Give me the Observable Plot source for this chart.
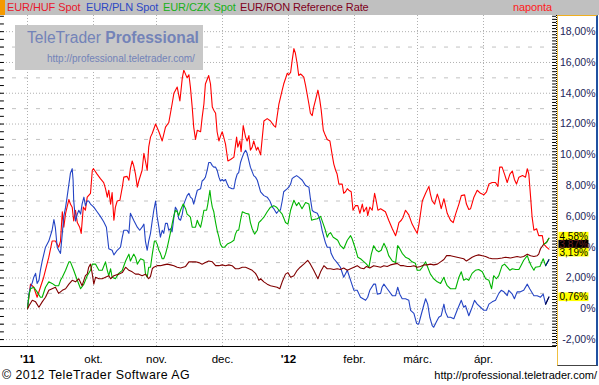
<!DOCTYPE html>
<html><head><meta charset="utf-8">
<script src="https://cdn.jsdelivr.net/npm/d3@7"></script>
<script src="https://cdn.jsdelivr.net/npm/@observablehq/plot@0.6"></script>
<style>
body{margin:0;background:#fff;}
#wrap{position:relative;width:599px;height:385px;overflow:hidden;font-family:"Liberation Sans",Arial,sans-serif;background:#fff;}
#hdr{position:absolute;left:0;top:0;width:599px;height:15px;background:#c0c0c0;}
#hdr span{position:absolute;top:0;font-size:11px;letter-spacing:-0.1px;line-height:15px;white-space:nowrap;}
#orange{position:absolute;left:0;top:0;width:5px;height:15px;background:#f59a00;}
#chart{position:absolute;left:0;top:15px;}
#panel{position:absolute;left:557px;top:15px;width:41px;height:351px;box-sizing:border-box;border-top:1px solid #f0b020;border-left:1px solid #f0c040;border-right:2px solid #2050a0;border-bottom:1px solid #444;pointer-events:none;}
#logo{position:absolute;left:15px;top:25px;width:188px;height:45px;background:#c8c8c8;color:#7383b8;}
#logo .t{position:absolute;left:12px;top:4px;font-size:15.6px;white-space:nowrap;}
#logo .u{position:absolute;left:32px;top:28px;font-size:10px;white-space:nowrap;}
#ftr{position:absolute;left:0;top:366px;width:599px;height:19px;background:#fff;}
#ftr .l{position:absolute;left:2px;top:2px;font-size:12.4px;letter-spacing:0.45px;}
#ftr .r{position:absolute;right:2px;top:3px;font-size:11px;}
</style></head>
<body>
<div id="wrap">
  <div id="hdr">
    <div id="orange"></div>
    <span style="left:7px;color:#e8182c">EUR/HUF Spot</span>
    <span style="left:86px;color:#2c48c4">EUR/PLN Spot</span>
    <span style="left:163px;color:#18b018">EUR/CZK Spot</span>
    <span style="left:240px;color:#80001c">EUR/RON Reference Rate</span>
    <span style="left:513px;color:#ff1a1a">naponta</span>
  </div>
  <div id="chart"></div>
  <div id="panel"></div>
  <div id="logo"><div class="t">TeleTrader <b>Professional</b></div><div class="u">http://professional.teletrader.com/</div></div>
  <div id="ftr"><span class="l">© 2012 TeleTrader Software AG</span><span class="r">http://professional.teletrader.com/</span></div>
</div>
<script>
// Trading-day index (0 = first trading day of Sept 2011), change in %
const hufPct = [[0,0],[1,1.6],[2.1,1.4],[3.2,0.75],[4.3,1.4],[5.4,2.05],[7.1,3.35],[8.2,4.4],[9.3,4.4],[10.4,4.0],[11,4.4],[11.6,6.3],[12.1,5.3],[12.7,6.2],[13.8,7.1],[14.3,6.8],[14.9,6.6],[15.4,5.7],[16,6.4],[16.6,5.6],[17.4,5.3],[17.9,4.9],[18.6,6.6],[19.3,6.4],[19.9,7.25],[21,7.5],[21.6,9.0],[22,9.1],[23.2,8.75],[24.3,8.45],[25.4,8.2],[26,7.8],[26.6,7.25],[27.1,7.7],[27.7,6.8],[28.2,7.55],[28.8,5.75],[29.3,6.6],[29.9,7.0],[30.8,7.05],[31.6,7.9],[32.1,8.55],[33.2,8.6],[33.8,8.35],[34.3,9.1],[34.9,9.6],[35.4,9.3],[36,8.75],[36.6,7.9],[37.1,8.3],[38.2,9.0],[38.8,10.1],[39.3,9.6],[39.9,9.0],[40.4,10.5],[41,11.15],[41.6,11.4],[42.7,12.0],[43.8,11.5],[44.9,10.9],[46,11.8],[47.1,12.1],[48.2,13.3],[48.8,14.0],[49.9,14.4],[50.8,13.5],[51.6,15.0],[52.1,15.5],[53.2,15.0],[53.8,15.2],[54.3,14.4],[54.9,13.1],[55.4,11.8],[56,11.0],[56.6,11.6],[57.7,11.5],[58.2,12.4],[58.8,13.3],[59.3,14.6],[60.4,15.15],[61,14.6],[61.6,13.1],[62.1,12.9],[62.7,12.7],[63.2,11.5],[63.8,10.9],[64.3,11.2],[64.9,11.5],[65.4,11.15],[66,10.7],[66.8,9.6],[67.7,9.7],[68.8,9.85],[69.7,11.15],[70.1,10.5],[70.8,10.9],[71.2,10.2],[71.9,11.9],[72.7,11.15],[73.2,10.9],[73.8,11.25],[74.3,10.3],[74.9,10.5],[75.4,10.9],[76.3,10.3],[76.8,10.5],[77.7,10.0],[78.8,12.2],[79.9,12.35],[81,12.2],[82.1,11.9],[82.7,11.8],[83.8,13.3],[84.9,14.2],[85.4,14.6],[86.6,15.3],[87.1,15.2],[87.7,15.35],[88.2,16.1],[88.8,16.9],[89.3,16.6],[89.9,15.9],[90.4,15.15],[91,15.25],[91.6,15.15],[92.1,15.05],[92.7,14.5],[93.2,13.95],[93.8,13.3],[94.3,12.7],[94.9,12.55],[95.4,13.1],[96,13.55],[96.8,14.2],[97.4,13.6],[97.9,12.9],[98.6,11.6],[99.3,11.25],[99.9,11.0],[100.8,10.9],[101.6,9.95],[102.1,9.4],[102.7,9.0],[103.2,8.75],[103.8,8.1],[104.9,8.1],[105.4,7.5],[106,7.6],[106.6,7.8],[107.1,7.7],[107.9,7.6],[108.5,6.4],[109.3,6.7],[110.1,6.7],[110.8,6.2],[111.6,6.8],[112.1,6.3],[113,6.6],[113.4,6.05],[114.1,6.6],[114.9,6.4],[115.7,7.5],[116.2,7.05],[116.8,6.4],[117.7,6.5],[119.3,6.3],[120.4,5.75],[121.6,5.2],[122.7,4.75],[123.2,5.1],[123.8,5.6],[124.6,5.75],[125.2,5.95],[126,6.4],[127.1,6.1],[128.2,5.5],[129.3,5.1],[129.9,4.9],[130.5,5.5],[131.6,7.0],[132.7,7.5],[133.8,7.95],[134.3,7.45],[134.9,7.0],[135.7,6.8],[136.6,7.45],[137.1,7.15],[137.9,6.5],[138.8,7.15],[139.9,6.2],[141,5.75],[141.9,5.6],[142.7,6.15],[143.8,6.8],[144.6,7.35],[145.7,7.4],[146.3,6.8],[147.1,6.45],[147.7,6.5],[148.8,7.25],[149.9,7.7],[151,7.5],[152.1,7.4],[153,7.6],[153.8,8.1],[154.9,8.2],[156,8.2],[156.8,7.95],[157.4,9.2],[158.2,9.2],[159,8.75],[159.9,8.2],[160.8,8.75],[161.6,8.95],[162.3,8.4],[163,8.1],[163.8,8.55],[165,8.65],[166,8.55],[166.6,9.1],[167.1,8.75],[167.7,7.25],[168.2,5.95],[168.8,5.1],[169.7,5.2],[170.4,4.75],[171.6,4.75],[172.1,4.2],[173,4.0],[173.8,3.87]];
const plnPct = [[0,0],[0.5,1.0],[1,1.4],[1.6,1.7],[2.1,2.05],[2.7,2.3],[3.2,1.65],[3.8,1.85],[4.3,2.5],[4.9,3.1],[6,4.0],[7.1,4.4],[8.2,5.1],[8.8,5.8],[9.3,5.25],[9.9,4.0],[10.4,3.8],[11,3.6],[11.6,4.9],[12.1,6.0],[12.7,6.6],[13.2,7.25],[13.8,8.1],[14.3,8.8],[14.9,9.1],[15.2,8.35],[15.4,7.05],[16,5.7],[16.6,6.15],[17.1,6.4],[17.7,6.15],[18.2,6.8],[18.8,7.25],[19.3,6.7],[19.9,7.0],[20.4,7.0],[21,6.8],[22.1,6.6],[23.2,6.3],[24.3,6.0],[25.4,5.65],[26.3,5.3],[27.1,3.9],[28.2,3.8],[28.8,3.5],[29.9,3.8],[31,4.0],[31.6,4.65],[32.1,5.1],[33.2,5.1],[33.8,4.9],[34.3,6.2],[35.4,5.75],[36.6,5.3],[37.4,5.1],[38.2,5.3],[38.8,5.5],[39.3,4.4],[39.9,3.8],[40.4,4.4],[41,4.9],[41.6,5.75],[42.1,6.4],[42.7,7.0],[43.2,6.0],[43.8,5.3],[44.3,4.65],[44.9,5.1],[45.4,4.9],[46,5.55],[46.6,5.55],[47.1,5.1],[47.7,5.2],[48.2,5.0],[48.8,5.95],[49.3,6.6],[49.9,6.4],[50.4,5.85],[51,5.75],[51.6,6.15],[52.1,6.8],[53.2,7.35],[53.8,7.5],[54.3,7.25],[54.9,7.15],[55.4,6.8],[56.6,7.7],[57.7,7.8],[58.2,8.3],[58.8,8.4],[59.3,8.55],[59.9,9.0],[60.4,9.5],[61,9.5],[61.6,9.3],[62.1,9.2],[62.7,9.2],[63.2,9.0],[63.8,8.55],[64.3,8.3],[64.9,8.4],[65.4,8.3],[66,8.4],[66.6,8.1],[67.1,7.9],[68.2,7.8],[68.8,7.8],[69.3,8.35],[69.9,8.75],[70.4,8.85],[71,9.5],[71.6,9.85],[72.1,10.1],[72.7,10.3],[73.2,10.1],[73.8,9.6],[74.3,9.2],[75.4,8.65],[76,8.55],[76.6,8.35],[77.7,7.6],[78.8,7.35],[79.9,7.25],[80.8,7.0],[81.6,6.6],[82.1,6.5],[83,6.2],[83.8,6.4],[84.3,6.4],[84.9,7.0],[85.4,7.6],[86.6,7.8],[87.1,7.9],[87.7,8.1],[88.2,8.45],[88.8,8.55],[89.7,8.65],[90.4,8.55],[91.6,8.35],[92.7,8.0],[93.8,7.9],[94.3,7.15],[94.9,6.4],[95.4,6.3],[96.6,6.2],[97.1,6.0],[97.7,5.6],[98.2,5.1],[98.8,4.65],[99.3,4.3],[99.9,4.0],[100.8,4.0],[101.2,3.6],[102.1,3.25],[103.2,3.0],[104.3,2.7],[105.4,2.05],[106.6,2.5],[107.7,1.85],[108.8,1.2],[109.9,1.2],[111,0.75],[112.7,0.55],[113.4,0.75],[114.1,1.2],[115.4,1.6],[116,1.6],[116.6,0.95],[117.7,1.0],[118.2,1.4],[118.8,1.6],[119.9,1.3],[121.6,0.85],[122.7,0.85],[123.4,1.4],[124.1,0.95],[124.9,0.65],[126,0.65],[127.1,0.55],[127.7,-0.1],[128.8,-0.3],[129.7,-0.95],[130.4,-1.0],[131,-0.55],[131.9,0.1],[132.7,0.65],[133.4,0.3],[134.1,-0.55],[134.9,-1.1],[135.4,-1.2],[136.3,-0.85],[137.1,-0.55],[137.9,-0.45],[138.8,0.3],[139.3,-0.2],[140.1,-0.55],[141,-0.55],[142.1,-0.65],[143.2,-0.1],[144.6,0.55],[145.4,0.1],[146,0.2],[147.1,-0.45],[148.2,0.1],[149,0.55],[149.9,0.3],[151,0.1],[152.1,-0.1],[153,-0.1],[153.8,0.3],[154.9,0.45],[156,0.55],[157.1,1.0],[157.9,1.2],[158.8,1.1],[159.9,0.85],[160.4,1.2],[161.6,0.95],[162.3,0.65],[163.2,1.1],[164.3,1.1],[165.4,1.2],[166.6,1.6],[167.4,1.3],[168.8,0.85],[169.9,0.85],[171,0.75],[171.9,0.95],[172.7,0.3],[173.8,0.76]];
const czkPct = [[0,0],[0.5,0.9],[1,1.3],[2.1,1.4],[3.2,1.1],[4.3,0.75],[4.9,0.75],[6,1.4],[7.1,1.75],[8.2,1.65],[9.3,1.5],[10.4,1.5],[11,1.85],[11.6,2.05],[12.7,2.5],[13.8,3.05],[14.3,3.05],[15.4,2.5],[16.6,1.85],[17.7,1.3],[18.8,1.6],[19.9,2.15],[21,2.5],[21.6,2.9],[22.7,2.9],[23.8,2.5],[24.9,2.5],[26,3.05],[26.6,2.5],[27.1,2.15],[27.7,2.6],[28.2,2.05],[29.3,1.95],[30.4,2.3],[31.6,2.5],[32.7,3.1],[33.8,3.55],[34.3,3.1],[35.4,3.55],[36,3.35],[36.6,2.9],[37.7,3.25],[38.8,3.15],[39.3,2.3],[39.9,2.05],[40.4,2.7],[41,2.7],[41.6,3.55],[42.3,4.4],[42.7,4.4],[43.2,4.2],[43.8,3.8],[44.3,3.6],[44.9,3.25],[45.4,3.25],[46,3.55],[46.6,4.0],[47.1,4.45],[47.7,5.0],[48.2,5.5],[48.8,6.05],[49.3,6.4],[49.9,6.3],[50.4,6.05],[51,6.4],[51.9,6.8],[52.7,6.5],[53.2,6.15],[53.8,6.05],[54.3,5.95],[54.9,5.3],[56,5.3],[56.6,5.75],[57.1,5.5],[57.7,5.3],[58.2,5.75],[58.8,6.4],[59.7,6.4],[60.1,6.8],[60.8,7.7],[61.2,7.05],[61.6,6.6],[62.1,6.3],[62.7,5.6],[63.2,5.1],[63.8,4.65],[64.3,4.2],[64.9,4.0],[65.7,4.0],[66.6,4.2],[67.7,4.3],[68.8,4.45],[69.3,4.85],[69.9,5.1],[70.4,5.1],[71,5.75],[71.6,6.3],[72.7,6.2],[73.8,6.15],[74.3,5.6],[74.9,5.2],[75.7,4.85],[76.6,5.1],[77.1,5.6],[77.9,5.75],[78.8,5.95],[79.9,6.3],[81,6.6],[82.1,6.7],[83,6.6],[83.8,6.4],[84.9,6.15],[86,5.6],[86.8,5.5],[87.7,6.4],[88.8,7.05],[89.7,6.7],[90.4,6.9],[91.5,6.5],[92.7,6.9],[93.8,6.8],[94.7,5.75],[95.4,5.8],[96.6,5.85],[97.7,6.0],[98.6,5.5],[99.3,5.1],[99.9,4.65],[100.4,4.85],[101,4.95],[101.9,4.65],[102.7,4.55],[103.4,4.45],[104.3,4.1],[105.4,3.9],[106.6,4.45],[107.7,4.75],[108.2,4.55],[109.3,3.9],[110.1,3.35],[111,3.25],[111.9,3.1],[113,2.9],[113.8,2.7],[114.6,3.55],[115.4,4.1],[116.3,3.8],[117.1,3.7],[117.9,3.8],[118.8,4.25],[119.7,3.9],[120.4,3.45],[121.6,3.1],[122.7,3.0],[123.4,4.1],[124.1,3.9],[124.9,3.6],[126,3.35],[127.1,3.25],[128.2,3.05],[129.3,2.95],[129.9,2.5],[130.8,2.5],[131.6,2.7],[132.7,3.05],[133.4,2.7],[134.3,2.25],[135.4,1.95],[136.6,1.75],[137.7,1.65],[138.8,2.05],[139.3,1.75],[139.9,1.5],[141,1.3],[142.7,1.3],[143.8,2.05],[144.6,2.4],[145.4,1.85],[146.3,1.95],[147.1,1.85],[148.2,2.3],[149.3,2.5],[150.4,2.55],[151.6,2.4],[152.7,1.95],[153.8,1.85],[154.7,1.3],[155.4,2.15],[156.3,1.95],[157.1,2.15],[158.2,2.8],[159,2.9],[159.9,2.7],[160.8,2.5],[161.6,2.6],[162.7,2.55],[163.8,2.55],[164.6,2.85],[165.4,3.15],[166.6,3.45],[167.1,3.15],[167.9,2.8],[168.8,2.5],[169.3,2.7],[170.8,2.75],[171.9,3.25],[172.7,2.8],[173.8,3.19]];
const ronPct = [[0,0],[0.5,0.2],[1.6,0.55],[2.7,0.45],[3.8,0.1],[4.9,0.45],[6,0.75],[7.1,1.2],[8.2,1.3],[9.3,1.4],[10.4,1.0],[11.6,1.2],[12.7,1.3],[13.8,1.6],[14.9,1.85],[16,1.75],[17.1,1.95],[18.2,1.5],[19.3,2.15],[19.9,2.25],[20.4,2.7],[21,2.9],[21.6,2.25],[22.1,1.6],[22.7,2.05],[23.8,1.95],[24.9,1.95],[26,2.05],[27.1,2.15],[27.7,1.95],[28.8,2.15],[30.4,2.25],[31.6,2.35],[32.7,2.7],[33.8,2.5],[34.9,2.4],[36,2.25],[37.1,2.25],[38.2,2.15],[39.3,2.25],[40.4,1.95],[41,2.1],[41.6,2.6],[42.1,2.7],[43.2,2.8],[44.3,2.8],[45.4,2.85],[46.6,2.9],[47.7,2.85],[48.8,2.8],[49.9,2.7],[51,2.65],[52.7,2.75],[53.8,3.05],[54.9,3.05],[56,3.05],[57.1,3.0],[58.2,2.9],[59.3,3.0],[60.4,3.1],[61.6,3.05],[62.7,2.8],[63.8,2.8],[64.9,2.85],[66,2.8],[67.1,2.85],[68.2,2.8],[69.3,2.6],[70.4,2.6],[71.6,2.7],[72.7,2.7],[73.8,2.6],[74.9,2.5],[76,2.3],[76.6,2.1],[77.1,1.85],[77.7,1.95],[78.8,1.75],[79.9,1.6],[81,1.5],[82.1,1.45],[83.2,1.4],[84.1,1.3],[84.9,1.75],[86,2.25],[86.8,2.35],[87.7,2.05],[88.8,2.15],[89.9,2.5],[90.9,2.7],[92.1,2.9],[93.4,3.15],[94.3,2.9],[95.4,2.5],[96.8,1.95],[97.7,2.4],[98.8,2.8],[99.9,2.6],[101,2.6],[102.1,2.55],[103.2,2.6],[104.3,2.55],[105.4,2.65],[106.6,2.5],[107.7,2.6],[108.8,2.7],[109.9,2.8],[111,2.65],[112.1,2.6],[113,2.75],[114.1,2.65],[115.4,2.8],[116.6,2.75],[117.7,2.7],[118.8,2.8],[119.9,2.75],[121,2.85],[122.1,2.9],[123.2,2.95],[124.3,2.8],[125.4,2.8],[126.6,2.75],[127.7,2.75],[128.8,2.8],[129.9,2.7],[131,2.75],[132.1,2.85],[133.2,2.85],[134.3,2.9],[135.4,2.85],[136.6,2.9],[137.7,3.05],[138.8,3.2],[139.7,3.45],[141,3.45],[142.1,3.4],[143.2,3.35],[144.3,3.3],[145.4,3.25],[146.3,3.1],[147.1,3.2],[148.2,3.35],[149.3,3.45],[150.4,3.5],[151.6,3.45],[152.7,3.4],[153.8,3.3],[154.9,3.25],[156.6,3.25],[158.2,3.3],[159.3,3.35],[161,3.3],[162.1,3.35],[163.2,3.4],[164.3,3.35],[165.4,3.4],[166.6,3.55],[167.7,3.45],[168.8,3.4],[169.9,3.45],[170.4,3.55],[171,3.9],[172.1,4.2],[173,4.3],[173.8,4.58]];

const seriesNames = ["EUR/HUF Spot", "EUR/PLN Spot", "EUR/CZK Spot", "EUR/RON Reference Rate"];
const seriesColors = ["#ff0000", "#2444c4", "#00b400", "#800000"];
const seriesData = [hufPct, plnPct, czkPct, ronPct];

const tickDays = [0, 22, 43, 65, 87, 109, 130, 152];
const tickLabels = ["'11", "okt.", "nov.", "dec.", "'12", "febr.", "márc.", "ápr."];

const yLabelLevels = [-2, 0, 2, 4, 6, 8, 10, 12, 14, 16, 18];
const yOddLevels = [-1, 1, 3, 5, 7, 9, 11, 13, 15, 17];

const endValues = [4.58, 3.87, 3.19, 0.76];

// ---------- build ----------
const X0 = -9, X1 = 176.33, Y0 = -2.45, Y1 = 19.05;
const fmt = v => v === 0 ? "0%" : v.toFixed(2).replace(".", ",") + "%";
const rows = seriesData.flatMap((s, i) => s.map(([d, v]) => ({day: d, value: v, name: seriesNames[i]})));
const minorTicks = d3.range(-2.4, 19.01, 0.2);
const leftTicks = d3.range(-2, 19.01, 0.5);

const marks = [
  Plot.ruleY(yLabelLevels, {stroke: "#b0b0b0", strokeDasharray: "1,2"}),
  Plot.ruleY(yOddLevels, {stroke: "#c2c2c2", strokeDasharray: "4,8"}),
  Plot.ruleX(tickDays, {stroke: "#b0b0b0", strokeDasharray: "1,2"}),
];
seriesNames.forEach((n, i) => {
  marks.push(Plot.line(rows.filter(r => r.name === n), {x: "day", y: "value", stroke: seriesColors[i], strokeWidth: 1.1}));
});
// last segments drawn in other colours, as in the source chart
const lastSeg = (arr, k) => arr.slice(-k).map(([d, v]) => ({day: d, value: v}));
marks.push(Plot.line(lastSeg(ronPct, 3), {x: "day", y: "value", stroke: "#00b400", strokeWidth: 1.1}));
marks.push(Plot.line(lastSeg(czkPct, 2), {x: "day", y: "value", stroke: "#000090", strokeWidth: 1.1}));
marks.push(Plot.line(lastSeg(plnPct, 2), {x: "day", y: "value", stroke: "#000040", strokeWidth: 1.1}));

marks.push(Plot.ruleY([Y0], {stroke: "#000", strokeWidth: 1}));
marks.push(Plot.ruleX([X1], {stroke: "#000", strokeDasharray: "1,1"}));
marks.push(Plot.ruleY(minorTicks, {x1: X1 - 1.3, x2: X1, stroke: "#000"}));
marks.push(Plot.ruleY(leftTicks, {x1: X0, x2: X0 + 1.3, stroke: "#000"}));
marks.push(Plot.axisY(yLabelLevels, {anchor: "right", tickSize: 0, tickPadding: 0, tickFormat: fmt, textAnchor: "end", dx: 39, fontSize: 10.5, fill: "#1c2458", label: null}));

const tickRows = tickDays.map((d, i) => ({day: d, label: tickLabels[i]}));
marks.push(Plot.text(tickRows.filter(r => !r.label.startsWith("'")), {x: "day", text: "label", frameAnchor: "bottom", dy: 13, lineAnchor: "middle", fontSize: 11.5, fill: "#000"}));
marks.push(Plot.text(tickRows.filter(r => r.label.startsWith("'")), {x: "day", text: "label", frameAnchor: "bottom", dy: 13, lineAnchor: "middle", fontSize: 11.5, fontWeight: "bold", fill: "#000"}));

const endBg = ["#ffff00", "#000000", "#ffff00", "#ffff00"];
const endFg = ["#000000", "#6a2020", "#000000", "#000000"];
const endDy = [-1.8, -4.7, -7.2, 0];
endValues.forEach((v, i) => {
  marks.push(Plot.text([{value: v}], {y: "value", text: d => fmt(d.value), frameAnchor: "right", dx: 3, dy: endDy[i], textAnchor: "start", lineAnchor: "middle", fontSize: 10, fill: endFg[i]}));
});

const plot = Plot.plot({
  width: 599, height: 351,
  marginLeft: 0, marginRight: 43, marginTop: 0, marginBottom: 20,
  x: {type: "linear", domain: [X0, X1], axis: null},
  y: {domain: [Y0, Y1], axis: null},
  style: {fontFamily: "Liberation Sans, Arial, sans-serif", background: "transparent", overflow: "visible"},
  marks
});
document.getElementById("chart").append(plot);

// backgrounds behind the end labels
const endTexts = endValues.map(fmt);
plot.querySelectorAll("text").forEach(t => {
  const i = endTexts.indexOf(t.textContent.trim());
  if (i < 0) return;
  const b = t.getBBox();
  const r = document.createElementNS("http://www.w3.org/2000/svg", "rect");
  const cy = b.y + b.height / 2;
  r.setAttribute("x", b.x - 1);
  r.setAttribute("y", cy - 4.3);
  r.setAttribute("width", b.width + 1.5);
  r.setAttribute("height", 8.6);
  r.setAttribute("fill", endBg[i]);
  const tr = t.getAttribute("transform");
  if (tr) r.setAttribute("transform", tr);
  t.parentNode.insertBefore(r, t);
});
</script>
</body></html>
